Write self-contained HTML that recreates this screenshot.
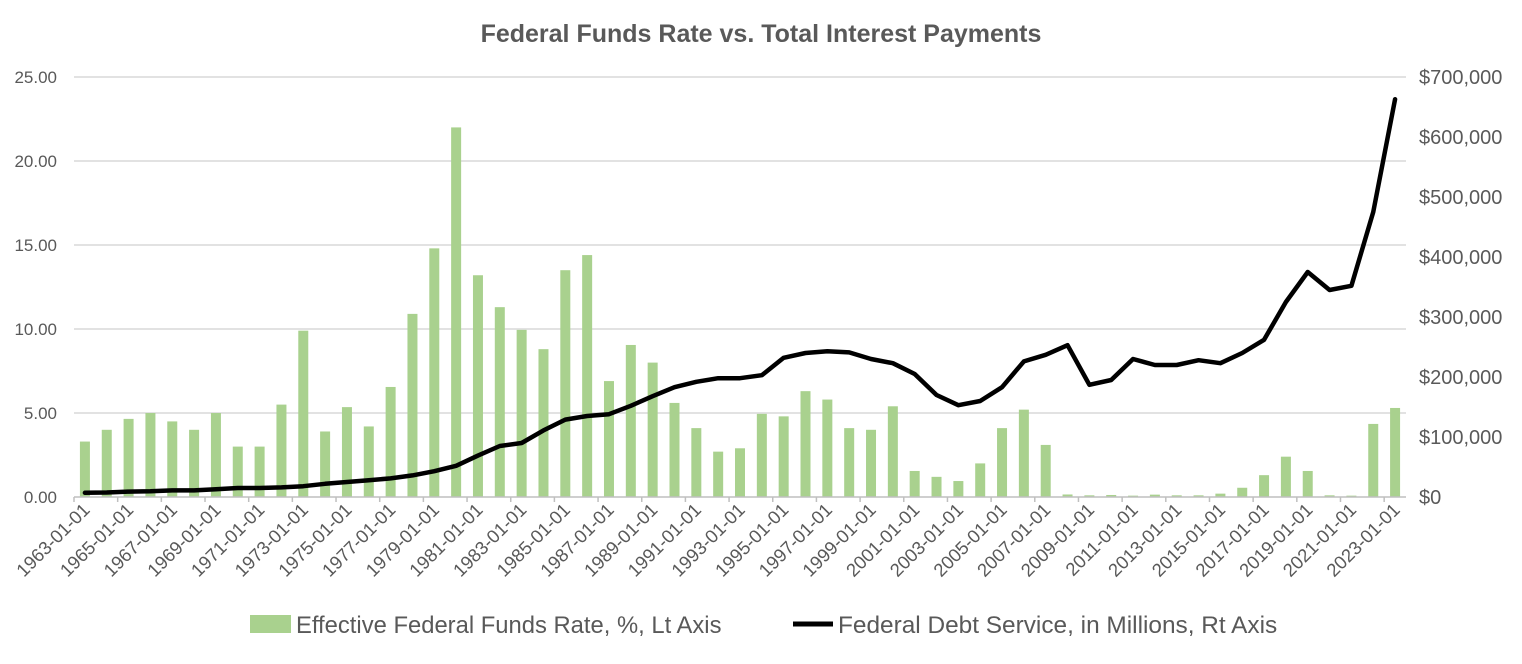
<!DOCTYPE html>
<html><head><meta charset="utf-8"><style>
body{margin:0;background:#fff;}
svg text{font-family:"Liberation Sans",sans-serif;fill:#595959;}
</style></head><body>
<svg id="chart" width="1522" height="659" xmlns="http://www.w3.org/2000/svg">
<text x="761" y="42" text-anchor="middle" font-size="25" font-weight="bold">Federal Funds Rate vs. Total Interest Payments</text>
<g id="grid"></g><g id="bars"></g><g id="line"></g><g id="axes"></g>
<g>
<rect x="250" y="615" width="41" height="18" fill="#a9d18e"/>
<text x="296" y="633" font-size="23.8">Effective Federal Funds Rate, %, Lt Axis</text>
<line x1="793" y1="624" x2="833" y2="624" stroke="#000" stroke-width="5"/>
<text x="838" y="633" font-size="24.4">Federal Debt Service, in Millions, Rt Axis</text>
</g>
</svg>
<script>
const years=[];for(let y=1963;y<=2023;y++)years.push(y);
const rate=[3.3,4.0,4.65,5.0,4.5,4.0,5.0,3.0,3.0,5.5,9.9,3.9,5.35,4.2,6.55,10.9,14.8,22.0,13.2,11.3,9.95,8.8,13.5,14.4,6.9,9.05,8.0,5.6,4.1,2.7,2.9,4.95,4.8,6.3,5.8,4.1,4.0,5.4,1.55,1.2,0.95,2.0,4.1,5.2,3.1,0.15,0.1,0.12,0.08,0.14,0.1,0.1,0.2,0.55,1.3,2.4,1.55,0.1,0.08,4.35,5.3];
const debt=[7000,7500,9000,9500,11000,11000,13000,15000,15000,16000,18000,22000,25000,28000,31000,36000,43000,52000,69000,85000,90000,111000,129000,135000,138000,152000,168000,183000,192000,198000,198000,203000,232000,240000,243000,241000,230000,223000,205000,170000,153000,160000,183000,226000,237000,253000,187000,195000,230000,220000,220000,228000,223000,240000,262000,325000,375000,345000,352000,475000,663000];
const leftTicks=["0.00","5.00","10.00","15.00","20.00","25.00"];
const rightTicks=["$0","$100,000","$200,000","$300,000","$400,000","$500,000","$600,000","$700,000"];
const NS="http://www.w3.org/2000/svg";
const X0=74,X1=1406,Y0=497,Y1=77,cw=(X1-X0)/years.length;
const xc=i=>X0+cw*(i+0.5);
const yl=v=>Y0-(v/25)*(Y0-Y1);
const yr=v=>Y0-(v/700000)*(Y0-Y1);
function mk(t,a,p){const e=document.createElementNS(NS,t);for(const k in a)e.setAttribute(k,a[k]);document.getElementById(p).appendChild(e);return e;}
leftTicks.forEach((t,i)=>{const v=parseFloat(t);const y=yl(v);
 if(i>0){const g=mk('line',{x1:X0,x2:X1,y1:y,y2:y,stroke:'#d9d9d9','stroke-width':1.5},'grid');
 
 }
 const tx=mk('text',{x:57,y:y+6,'text-anchor':'end','font-size':17},'axes');tx.textContent=t;
 
 });
rightTicks.forEach((t,i)=>{const y=yr(i*100000);
 const tx=mk('text',{x:1419,y:y+7,'font-size':20},'axes');tx.textContent=t;
 
 });
const ax=mk('line',{x1:X0,x2:X1,y1:Y0,y2:Y0,stroke:'#bfbfbf','stroke-width':1.5},'axes');


years.forEach((yv,i)=>{
 const b=mk('rect',{x:xc(i)-5,y:yl(rate[i]),width:10,height:Y0-yl(rate[i]),fill:'#a9d18e'},'bars');
 
 
 if(i%2===0){const tx0=X0+cw*i;
  const tk=mk('line',{x1:tx0,x2:tx0,y1:Y0,y2:Y0+5,stroke:'#bfbfbf','stroke-width':1.5},'axes');
  
  
  const lx=xc(i)+6,ly=Y0+14;
  const t=mk('text',{x:lx,y:ly,'text-anchor':'end','font-size':18.5,transform:`rotate(-45 ${lx} ${ly})`},'axes');
  t.textContent=yv+'-01-01';
  
  }
});
const pts=debt.map((v,i)=>xc(i)+','+yr(v)).join(' ');
const pl=mk('polyline',{points:pts,fill:'none',stroke:'#000','stroke-width':4.5,'stroke-linejoin':'round','stroke-linecap':'round'},'line');


</script>
</body></html>
